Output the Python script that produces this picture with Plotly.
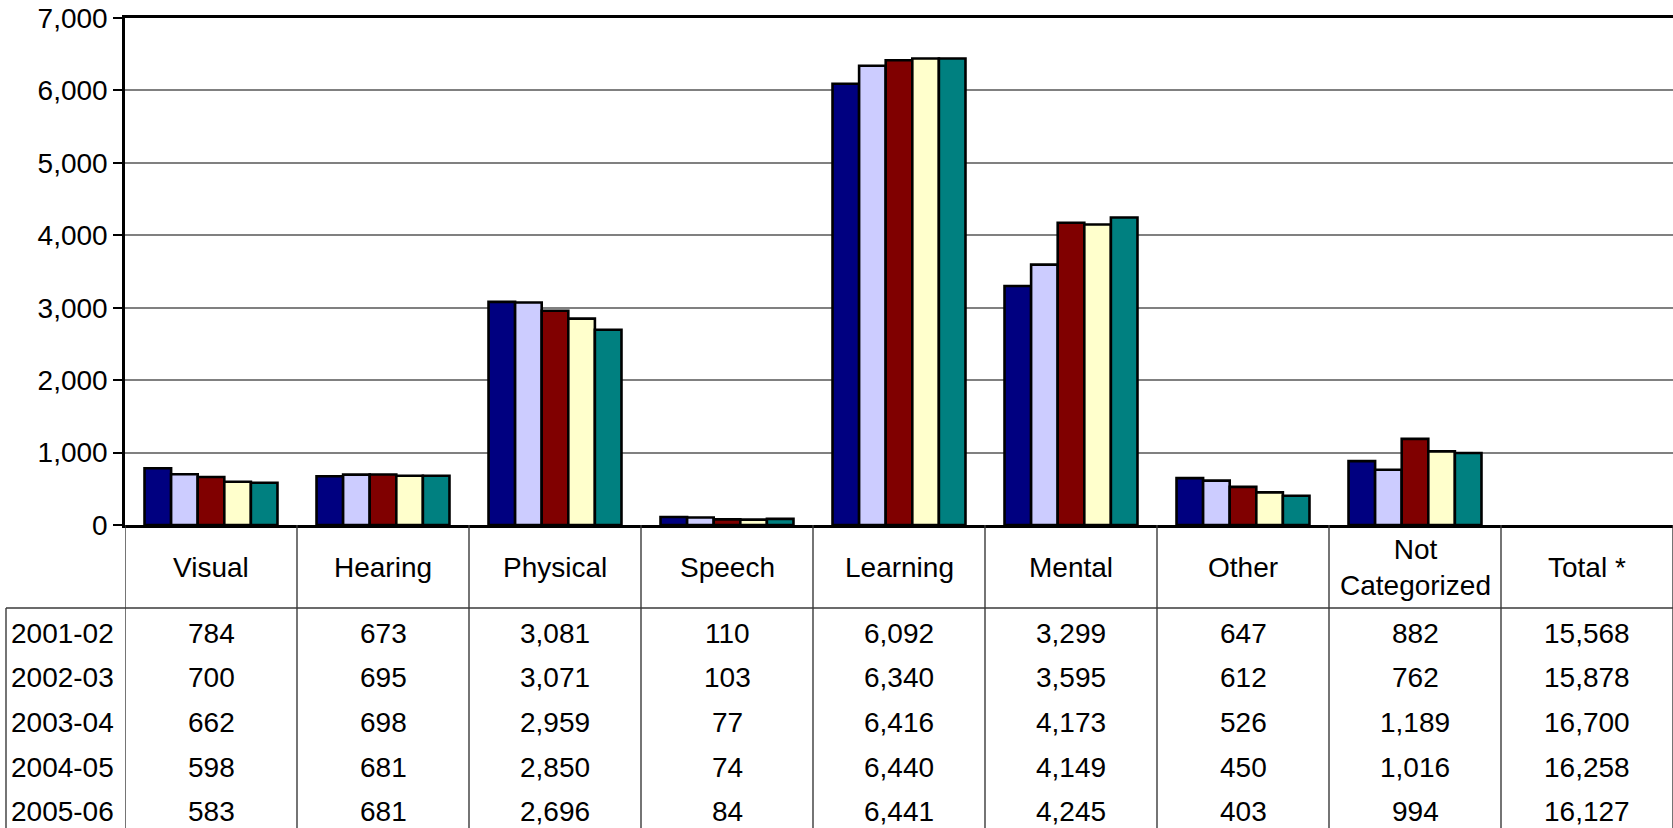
import plotly.graph_objects as go

# ---- Data ----
categories = ["Visual", "Hearing", "Physical", "Speech", "Learning",
              "Mental", "Other", "Not Categorized", "Total *"]
cat_labels = ["Visual", "Hearing", "Physical", "Speech", "Learning",
              "Mental", "Other", "Not<br>Categorized", "Total *"]
years = ["2001-02", "2002-03", "2003-04", "2004-05", "2005-06"]

y2001 = [784, 673, 3081, 110, 6092, 3299, 647, 882]
y2002 = [700, 695, 3071, 103, 6340, 3595, 612, 762]
y2003 = [662, 698, 2959, 77, 6416, 4173, 526, 1189]
y2004 = [598, 681, 2850, 74, 6440, 4149, 450, 1016]
y2005 = [583, 681, 2696, 84, 6441, 4245, 403, 994]
totals = [15568, 15878, 16700, 16258, 16127]

series = [y2001, y2002, y2003, y2004, y2005]
colors = ["#000080", "#CCCCFF", "#800000", "#FFFFCC", "#008080"]

FONT = "Liberation Sans, Arial, sans-serif"
FS = 28

# ---- Geometry (pixels) ----
W, H = 1673, 828
M_L, M_T, M_B = 125, 18, 303
plot_h = H - M_T - M_B
plot_w = W - M_L


def py(pixel_y):
    # pixel row -> paper y
    return (H - M_B - pixel_y) / plot_h


def px(pixel_x):
    return (pixel_x - M_L) / plot_w


fig = go.Figure()
for name, vals, col in zip(years, series, colors):
    fig.add_trace(go.Bar(
        x=categories, y=vals + [None],
        name=name,
        marker=dict(color=col, line=dict(color="black", width=2.6)),
    ))

shapes = []
annotations = []
TABLE_LINE = dict(color="#3a3a3a", width=1.4)

# column dividers of the data table
for k in range(len(categories) + 1):
    shapes.append(dict(type="line", xref="x", yref="paper",
                       x0=k - 0.5, x1=k - 0.5, y0=0, y1=py(H + 5),
                       line=TABLE_LINE))
# header / body separator
shapes.append(dict(type="line", xref="paper", yref="paper",
                   x0=px(6), x1=1.01, y0=py(608), y1=py(608),
                   line=TABLE_LINE))
# left border of row labels
shapes.append(dict(type="line", xref="paper", yref="paper",
                   x0=px(6), x1=px(6), y0=py(608), y1=py(H + 5),
                   line=TABLE_LINE))

# category header
for cat, lab in zip(categories, cat_labels):
    annotations.append(dict(x=cat, y=py(567), xref="x", yref="paper",
                            text=lab, showarrow=False, yanchor="middle",
                            font=dict(family=FONT, size=FS, color="black")))

# table body
row_y0, row_step = 633, 44.7
for i, yr in enumerate(years):
    yy = py(row_y0 + i * row_step)
    annotations.append(dict(x=px(9), y=yy, xref="paper", yref="paper",
                            text=yr, showarrow=False, xanchor="left",
                            yanchor="middle",
                            font=dict(family=FONT, size=FS, color="black")))
    row = series[i] + [totals[i]]
    for cat, v in zip(categories, row):
        annotations.append(dict(x=cat, y=yy, xref="x", yref="paper",
                                text=f"{v:,}", showarrow=False,
                                yanchor="middle",
                                font=dict(family=FONT, size=FS, color="black")))

fig.update_layout(
    width=W, height=H,
    paper_bgcolor="white",
    plot_bgcolor="white",
    margin=dict(l=M_L, r=0, t=M_T, b=M_B, pad=0, autoexpand=False),
    barmode="group",
    bargap=0.227,
    bargroupgap=0,
    showlegend=False,
    shapes=shapes,
    annotations=annotations,
    font=dict(family=FONT, size=FS, color="black"),
)
fig.update_xaxes(
    showticklabels=False, showgrid=False, ticks="", automargin=False,
    showline=True, linecolor="black", linewidth=2.5, mirror=True,
    range=[-0.5, len(categories) - 0.5],
)
fig.update_yaxes(
    range=[0, 7000], dtick=1000, tickformat=",", automargin=False,
    showgrid=True, gridcolor="#808080", gridwidth=2,
    showline=True, linecolor="black", linewidth=2.5,
    ticks="outside", ticklen=9, tickwidth=2, tickcolor="black",
    tickfont=dict(family=FONT, size=28, color="black"),
    zeroline=False,
)

# drop the browser's default body margin so the figure sits at (0, 0)
fig.write_html(
    "out.html",
    config={"displayModeBar": False},
    post_script="document.body.style.margin='0';"
                "document.body.style.overflow='hidden';",
)
